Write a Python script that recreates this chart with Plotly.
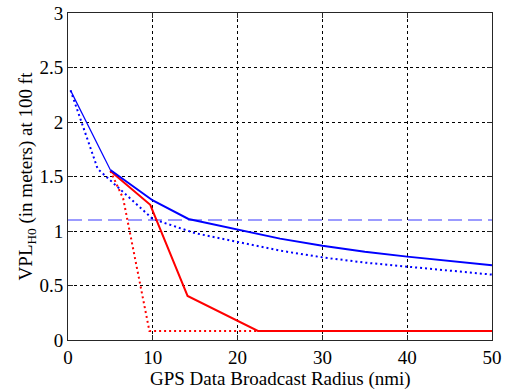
import plotly.graph_objects as go

# Blue solid
blue_solid_x = [0.3, 5, 10, 14.2, 20, 25, 30, 35, 40, 45, 50]
blue_solid_y = [2.29, 1.56, 1.28, 1.11, 1.01, 0.93, 0.865, 0.81, 0.765, 0.725, 0.685]
# Blue dotted
blue_dot_x = [0.3, 3.5, 10, 15, 20, 25, 30, 35, 40, 45, 50]
blue_dot_y = [2.29, 1.57, 1.11, 0.98, 0.90, 0.82, 0.758, 0.71, 0.673, 0.635, 0.60]
# Red solid
red_solid_x = [5, 9.7, 14.1, 22.4, 50]
red_solid_y = [1.55, 1.24, 0.404, 0.083, 0.083]
# Red dotted
red_dot_x = [5, 6.5, 9.6, 50]
red_dot_y = [1.55, 1.30, 0.083, 0.083]
# Blue dashed threshold
thr_x = [0, 50]
thr_y = [1.1, 1.1]

x_ticks = [0, 10, 20, 30, 40, 50]
y_ticks = [0, 0.5, 1, 1.5, 2, 2.5, 3]
y_tick_text = ["0", "0.5", "1", "1.5", "2", "2.5", "3"]

fig = go.Figure()
fig.add_trace(go.Scatter(x=thr_x, y=thr_y, mode="lines",
                         line=dict(color="#7b7bff", width=1.5, dash="14px,6px")))
fig.add_trace(go.Scatter(x=red_dot_x, y=red_dot_y, mode="lines",
                         line=dict(color="#ff0000", width=2, dash="2px,3px")))
fig.add_trace(go.Scatter(x=blue_dot_x, y=blue_dot_y, mode="lines",
                         line=dict(color="#0000ff", width=2, dash="2px,3px")))
fig.add_trace(go.Scatter(x=red_solid_x, y=red_solid_y, mode="lines",
                         line=dict(color="#ff0000", width=2)))
# thin first segment, thicker remainder
fig.add_trace(go.Scatter(x=blue_solid_x[:2], y=blue_solid_y[:2], mode="lines",
                         line=dict(color="#0000ff", width=1.2)))
fig.add_trace(go.Scatter(x=blue_solid_x[1:], y=blue_solid_y[1:], mode="lines",
                         line=dict(color="#0000ff", width=2)))

font = dict(family="Liberation Serif, Times New Roman, serif", size=19, color="black")
axis_common = dict(showline=True, linecolor="#262626", linewidth=1, mirror="ticks",
                   showgrid=True, gridcolor="black", gridwidth=1, griddash="3px,3px",
                   zeroline=False, ticks="inside", ticklen=5, tickcolor="#262626",
                   tickfont=font, automargin=False)

fig.update_layout(
    width=507, height=389,
    margin=dict(l=68, r=15, t=13, b=49),
    paper_bgcolor="white", plot_bgcolor="white",
    showlegend=False,
    font=font,
    xaxis=dict(range=[0, 50], tickvals=x_ticks, **axis_common),
    yaxis=dict(range=[0, 3], tickvals=y_ticks, ticktext=y_tick_text,
               title=dict(text="VPL<sub>H0</sub> (in meters) at 100 ft", font=font, standoff=0),
               **axis_common),
    annotations=[dict(text="GPS Data Broadcast Radius (nmi)", xref="paper", yref="paper",
                      x=0.5, y=-0.118, xanchor="center", yanchor="middle",
                      showarrow=False, font=font)],
)

fig.write_html("out.html")
